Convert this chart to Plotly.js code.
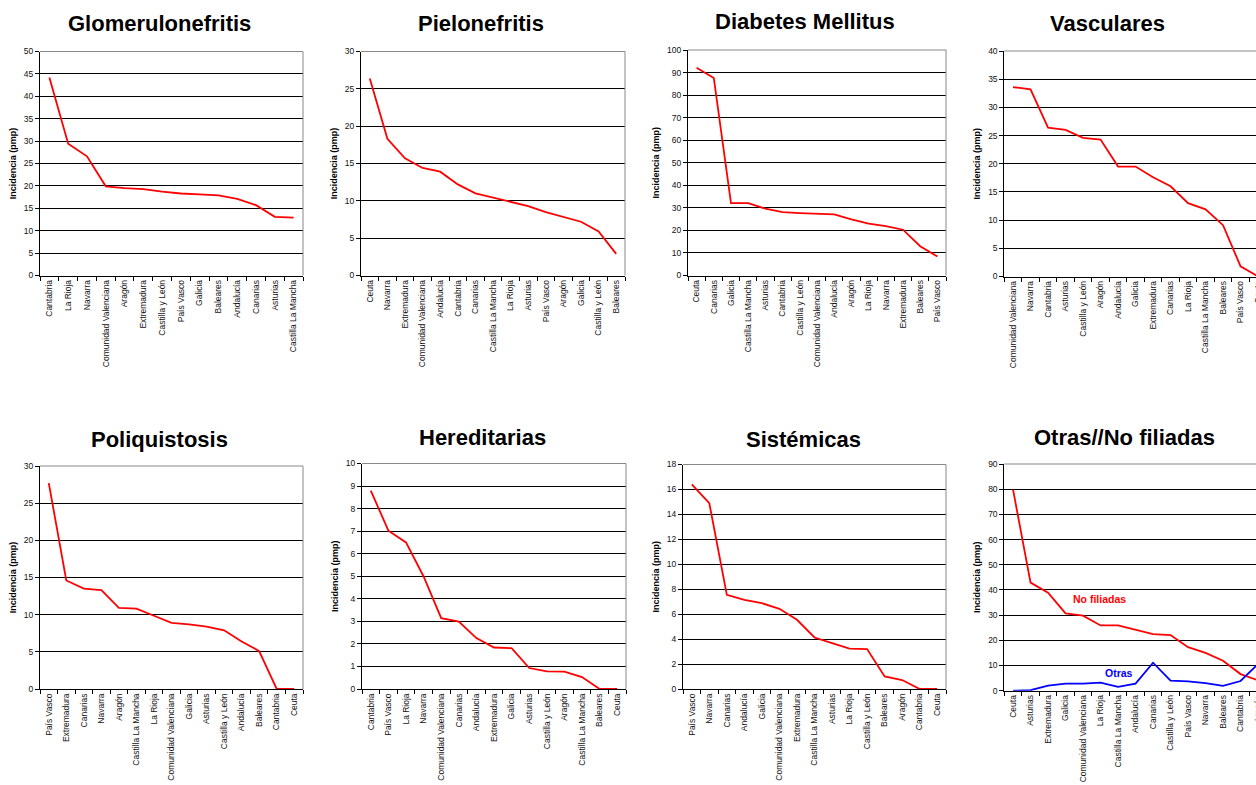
<!DOCTYPE html>
<html><head><meta charset="utf-8">
<script src="https://cdn.plot.ly/plotly-3.0.1.min.js"></script>
<style>html,body{margin:0;padding:0;overflow:hidden;background:#fff;}#chart{width:1280px;height:785px;}</style>
</head><body><div id="chart"></div><script>
// ---- Data ----
const glomCats = ['Cantabria','La Rioja','Navarra','Comunidad Valenciana','Aragón','Extremadura','Castilla y León','País Vasco','Galicia','Baleares','Andalucía','Canarias','Asturias','Castilla La Mancha'];
const glomVals = [44.2,29.4,26.6,19.9,19.5,19.3,18.7,18.3,18.1,17.9,17.1,15.7,13.1,12.9];

const pieloCats = ['Ceuta','Navarra','Extremadura','Comunidad Valenciana','Andalucía','Cantabria','Canarias','Castilla La Mancha','La Rioja','Asturias','País Vasco','Aragón','Galicia','Castilla y León','Baleares'];
const pieloVals = [26.4,18.3,15.7,14.4,13.9,12.2,11.0,10.4,9.8,9.3,8.5,7.8,7.2,5.9,2.9];

const diabCats = ['Ceuta','Canarias','Galicia','Castilla La Mancha','Asturias','Cantabria','Castilla y León','Comunidad Valenciana','Andalucía','Aragón','La Rioja','Navarra','Extremadura','Baleares','País Vasco'];
const diabVals = [92.1,87.6,32.1,32.1,29.6,28.1,27.7,27.4,27.1,24.9,23.0,21.9,20.3,13.0,8.4];

const vascCats = ['Comunidad Valenciana','Navarra','Cantabria','Asturias','Castilla y León','Aragón','Andalucía','Galicia','Extremadura','Canarias','La Rioja','Castilla La Mancha','Baleares','País Vasco','Ceuta'];
const vascVals = [33.6,33.2,26.4,26.0,24.6,24.3,19.5,19.5,17.6,16.0,13.0,11.9,9.1,1.8,0];

const poliCats = ['País Vasco','Extremadura','Canarias','Navarra','Aragón','Castilla La Mancha','La Rioja','Comunidad Valenciana','Galicia','Asturias','Castilla y León','Andalucía','Baleares','Cantabria','Ceuta'];
const poliVals = [27.7,14.6,13.5,13.3,10.9,10.8,9.85,8.9,8.7,8.4,7.9,6.4,5.1,0,0];

const heredCats = ['Cantabria','País Vasco','La Rioja','Navarra','Comunidad Valenciana','Canarias','Andalucía','Extremadura','Galicia','Asturias','Castilla y León','Aragón','Castilla La Mancha','Baleares','Ceuta'];
const heredVals = [8.8,7.02,6.5,4.99,3.14,2.99,2.26,1.84,1.81,0.93,0.78,0.77,0.53,0,0];

const sistCats = ['País Vasco','Navarra','Canarias','Andalucía','Galicia','Comunidad Valenciana','Extremadura','Castilla La Mancha','Asturias','La Rioja','Castilla y León','Baleares','Aragón','Cantabria','Ceuta'];
const sistVals = [16.4,14.9,7.55,7.15,6.88,6.43,5.55,4.13,3.68,3.23,3.2,1.01,0.72,0,0];

const otrasCats = ['Ceuta','Asturias','Extremadura','Galicia','Comunidad Valenciana','La Rioja','Castilla La Mancha','Andalucía','Canarias','Castilla y León','País Vasco','Navarra','Baleares','Cantabria','Aragón'];
const noFiliadasVals = [79.8,42.9,38.9,30.7,29.8,25.9,25.9,24.2,22.5,22.1,17.3,15.0,11.9,6.6,4.1];
const otrasVals = [0,0.2,2.0,2.8,2.8,3.2,1.5,2.8,11.1,4.0,3.7,3.0,1.9,3.85,10.6];

const panelTitles = ['Glomerulonefritis','Pielonefritis','Diabetes Mellitus','Vasculares','Poliquistosis','Hereditarias','Sistémicas','Otras//No filiadas'];
const yTitle = 'Incidencia (pmp)';

// ---- Layout helpers ----
const W = 1280, H = 785;
const px = x => x / W, py = y => 1 - y / H;
const FONT = 'Liberation Sans, Arial, Helvetica, sans-serif';
const RED = '#ff0000', BLUE = '#0000ff';

const panels = [
  {cats: glomCats, series: [{v: glomVals, c: RED}], ymax: 50, dtick: 5, box: [40, 303, 51.5, 275.5], t: [159.5, 24]},
  {cats: pieloCats, series: [{v: pieloVals, c: RED}], ymax: 30, dtick: 5, box: [361, 625, 51.5, 275.5], t: [481, 24]},
  {cats: diabCats, series: [{v: diabVals, c: RED}], ymax: 100, dtick: 10, box: [688, 946, 50, 275.5], t: [805, 22]},
  {cats: vascCats, series: [{v: vascVals, c: RED}], ymax: 40, dtick: 5, box: [1004.3, 1266.8, 51, 276.5], t: [1107, 24]},
  {cats: poliCats, series: [{v: poliVals, c: RED}], ymax: 30, dtick: 5, box: [40, 303, 466, 689], t: [159.5, 439]},
  {cats: heredCats, series: [{v: heredVals, c: RED}], ymax: 10, dtick: 1, box: [362, 626, 463.5, 689], t: [482, 437]},
  {cats: sistCats, series: [{v: sistVals, c: RED}], ymax: 18, dtick: 2, box: [683, 946, 464.5, 689], t: [803, 439]},
  {cats: otrasCats, series: [{v: noFiliadasVals, c: RED, name: 'No filiadas'}, {v: otrasVals, c: BLUE, name: 'Otras'}], ymax: 90, dtick: 10, box: [1004.3, 1266.8, 464, 690.7], t: [1124, 437]}
];

const data = [];
const layout = {
  width: W, height: H,
  margin: {l: 0, r: 0, t: 0, b: 0},
  paper_bgcolor: '#fff', plot_bgcolor: '#fff',
  showlegend: false,
  font: {family: FONT, color: '#111'},
  annotations: [], shapes: []
};

panels.forEach((p, k) => {
  const i = k + 1;
  const xa = 'x' + i, ya = 'y' + i;
  p.series.forEach(s => {
    data.push({
      type: 'scatter', mode: 'lines', x: p.cats, y: s.v, name: s.name || panelTitles[k],
      line: {color: s.c, width: 1.8}, xaxis: xa, yaxis: ya, hoverinfo: 'x+y'
    });
  });
  const [l, r, t, b] = p.box;
  layout['xaxis' + i] = {
    domain: [px(l), px(r)], anchor: ya, type: 'category',
    categoryorder: 'array', categoryarray: p.cats,
    range: [-0.5, p.cats.length - 0.5],
    tickson: 'boundaries', ticks: 'outside', ticklen: 4, tickwidth: 1, tickcolor: '#000',
    tickangle: -90, tickfont: {size: 8.5, family: FONT, color: '#111'},
    showline: true, linecolor: '#000', linewidth: 1, showgrid: false, zeroline: false, fixedrange: true
  };
  layout['yaxis' + i] = {
    domain: [py(b), py(t)], anchor: xa, range: [0, p.ymax], dtick: p.dtick, tick0: 0,
    ticks: 'outside', ticklen: 4, tickwidth: 1, tickcolor: '#000',
    tickfont: {size: 8.5, family: FONT, color: '#111'},
    showline: true, linecolor: '#000', linewidth: 1,
    showgrid: true, gridcolor: '#000', gridwidth: 1, zeroline: false, fixedrange: true,
    title: {text: yTitle, font: {size: 9, family: FONT, color: '#000', weight: 'bold'}, standoff: 5}
  };
  // grey frame: top and right edges of the plot area
  layout.shapes.push({
    type: 'line', xref: xa + ' domain', yref: ya + ' domain', x0: 0, x1: 1, y0: 1, y1: 1,
    line: {color: '#888', width: 1}, layer: 'above'
  });
  layout.shapes.push({
    type: 'line', xref: xa + ' domain', yref: ya + ' domain', x0: 1, x1: 1, y0: 0, y1: 1,
    line: {color: '#888', width: 1}, layer: 'above'
  });
  layout.annotations.push({
    text: panelTitles[k], xref: 'paper', yref: 'paper', x: px(p.t[0]), y: py(p.t[1]),
    xanchor: 'center', yanchor: 'middle', showarrow: false,
    font: {size: 22, family: FONT, color: '#000', weight: 'bold'}
  });
});

// series labels in the last panel
layout.annotations.push({
  text: 'No filiadas', xref: 'paper', yref: 'paper', x: px(1099), y: py(599),
  xanchor: 'center', yanchor: 'middle', showarrow: false,
  font: {size: 10.5, family: FONT, color: RED, weight: 'bold'}
});
layout.annotations.push({
  text: 'Otras', xref: 'paper', yref: 'paper', x: px(1119), y: py(673),
  xanchor: 'center', yanchor: 'middle', showarrow: false,
  font: {size: 10.5, family: FONT, color: BLUE, weight: 'bold'}
});

Plotly.newPlot('chart', data, layout, {staticPlot: true, displayModeBar: false});
</script></body></html>
